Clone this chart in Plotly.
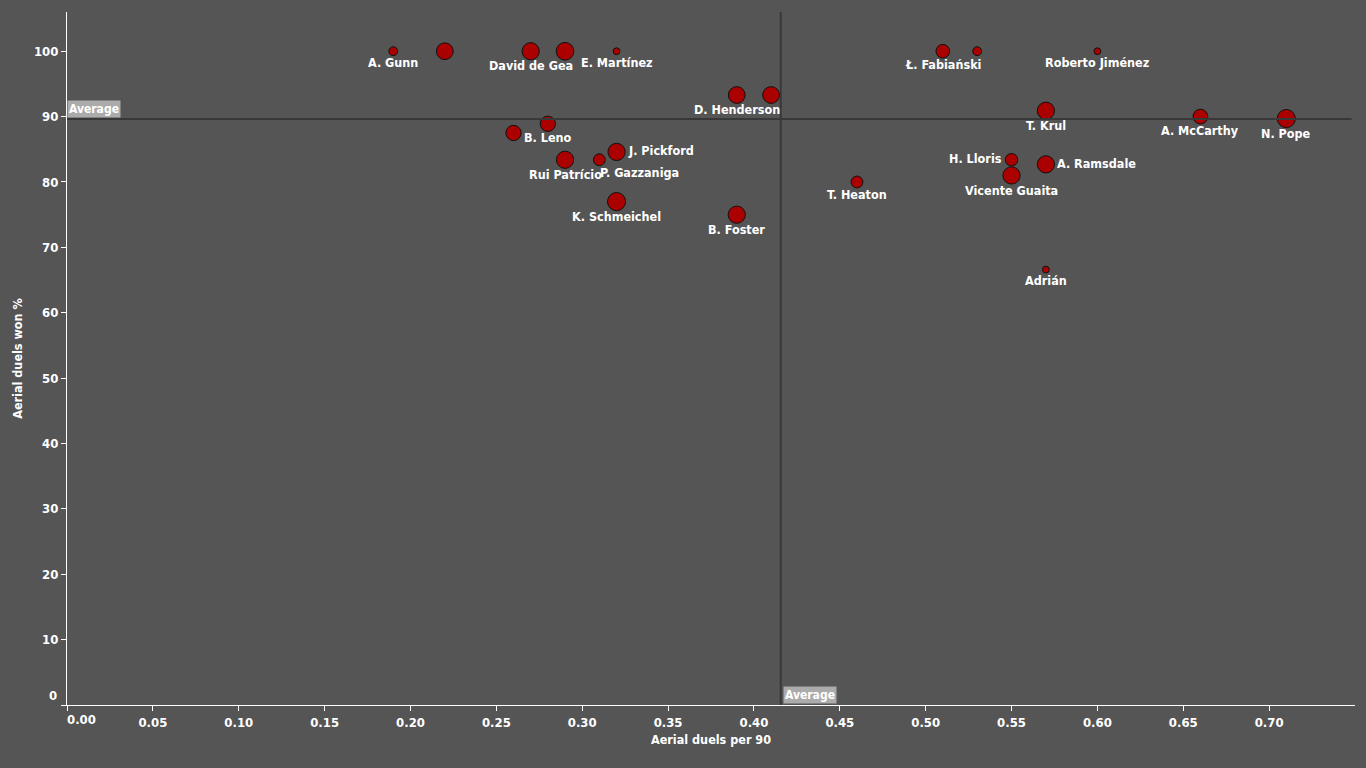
import plotly.graph_objects as go
import math

# ---- data ----
players = ["A. Gunn", "", "David de Gea", "", "E. Martínez",
           "D. Henderson", "", "B. Leno", "", "J. Pickford",
           "Rui Patrício", "P. Gazzaniga", "K. Schmeichel", "B. Foster", "T. Heaton",
           "Ł. Fabiański", "", "Roberto Jiménez", "T. Krul", "A. McCarthy",
           "N. Pope", "H. Lloris", "A. Ramsdale", "Vicente Guaita", "Adrián"]
aerial_per90 = [0.19, 0.22, 0.27, 0.29, 0.32,
                0.39, 0.41, 0.28, 0.26, 0.32,
                0.29, 0.31, 0.32, 0.39, 0.46,
                0.51, 0.53, 0.60, 0.57, 0.66,
                0.71, 0.55, 0.57, 0.55, 0.57]
aerial_won_pct = [100, 100, 100, 100, 100,
                  93.3, 93.3, 88.9, 87.5, 84.6,
                  83.4, 83.4, 77.0, 75.0, 80.0,
                  100, 100, 100, 90.9, 90.0,
                  89.7, 83.4, 82.7, 81.0, 66.6]
matches = [5, 18, 19, 20, 3,
           18, 18, 15, 15, 19,
           19, 9, 21, 19, 9,
           12, 5, 3, 19, 14,
           21, 10, 19, 19, 3]
avg_x = 0.4156
avg_y = 89.65

x_ticks = [0.00, 0.05, 0.10, 0.15, 0.20, 0.25, 0.30, 0.35, 0.40, 0.45, 0.50, 0.55, 0.60, 0.65, 0.70]
y_ticks = [0, 10, 20, 30, 40, 50, 60, 70, 80, 90, 100]

# ---- style ----
BG = "#555555"
FONT = "Liberation Sans Narrow, DejaVu Sans Condensed, Arial Narrow, sans-serif"
LABEL_SIZE = 12.5
TICK_SIZE = 13
SIZE_K = 2.8
label_side = {"J. Pickford": "right", "A. Ramsdale": "right", "H. Lloris": "left",
              "P. Gazzaniga": "below-start"}

fig = go.Figure()
fig.add_trace(go.Scatter(
    x=aerial_per90, y=aerial_won_pct, mode="markers",
    marker=dict(size=matches, sizemode="area", sizeref=1 / SIZE_K ** 2,
                color="#aa0000", line=dict(color="#111111", width=1), opacity=1),
    hoverinfo="text", text=players, showlegend=False,
))

annotations = []
for name, xv, yv, m in zip(players, aerial_per90, aerial_won_pct, matches):
    if not name:
        continue
    d = SIZE_K * math.sqrt(m) + 1
    side = label_side.get(name, "below")
    a = dict(x=xv, y=yv, xref="x", yref="y", text=name, showarrow=False,
             font=dict(family=FONT, size=LABEL_SIZE, color="white", weight="bold"),
             yanchor="middle", borderpad=0)
    if side == "below":
        a.update(xanchor="center", yshift=-(d / 2 + 8))
    elif side == "right":
        a.update(xanchor="left", xshift=d / 2 + 4, yshift=1)
    elif side == "left":
        a.update(xanchor="right", xshift=-(d / 2 + 3.5), yshift=1)
    else:
        a.update(xanchor="left", xshift=0, yshift=-(d / 2 + 8.5))
    annotations.append(a)

# average labels
avg_font = dict(family=FONT, size=12, color="white", weight="bold")
annotations.append(dict(x=0, y=avg_y, xref="x", yref="y", text="Average", showarrow=False,
                        xanchor="left", yanchor="bottom", yshift=1, bgcolor="#ababab",
                        borderpad=1, font=avg_font))
annotations.append(dict(x=avg_x, y=0, xref="x", yref="y", text="Average", showarrow=False,
                        xanchor="left", yanchor="bottom", xshift=2, yshift=1, bgcolor="#ababab",
                        borderpad=1, font=avg_font))

# origin tick labels are nudged off the corner in the reference
tick_font = dict(family=FONT, size=TICK_SIZE, color="white", weight="bold")
annotations.append(dict(x=x_ticks[0], y=0, xref="x", yref="paper", text=f"{x_ticks[0]:.2f}",
                        showarrow=False, xanchor="center", yanchor="middle",
                        xshift=14, yshift=-14, font=tick_font))
annotations.append(dict(x=0, y=y_ticks[0], xref="paper", yref="y", text=str(y_ticks[0]),
                        showarrow=False, xanchor="right", yanchor="middle",
                        xshift=-8, yshift=10, font=tick_font))
x_text = ["" if i == 0 else f"{v:.2f}" for i, v in enumerate(x_ticks)]
y_text = ["" if i == 0 else str(v) for i, v in enumerate(y_ticks)]

shapes = [
    dict(type="line", xref="x", yref="y", x0=0, x1=0.748, y0=avg_y, y1=avg_y,
         line=dict(color="#383838", width=2), layer="above"),
    dict(type="line", xref="x", yref="y", x0=avg_x, x1=avg_x, y0=0, y1=106,
         line=dict(color="#383838", width=2), layer="above"),
]

axis_common = dict(showgrid=False, zeroline=False, showline=True, linecolor="white", linewidth=1,
                   ticks="outside", ticklen=5, tickcolor="white", tickwidth=1,
                   tickfont=tick_font)
title_font = dict(family=FONT, size=12.5, color="white", weight="bold")

fig.update_layout(
    width=1366, height=768,
    paper_bgcolor=BG, plot_bgcolor=BG,
    margin=dict(l=67, r=11, t=12, b=63),
    font=dict(family=FONT, color="white", weight="bold"),
    xaxis=dict(range=[0, 0.75], tickvals=x_ticks, ticktext=x_text,
               title=dict(text="Aerial duels per 90", standoff=6, font=title_font),
               **axis_common),
    yaxis=dict(range=[0, 106], tickvals=y_ticks, ticktext=y_text,
               title=dict(text="Aerial duels won %", standoff=8, font=title_font),
               **axis_common),
    annotations=annotations, shapes=shapes,
)

fig.write_html("out.html")
